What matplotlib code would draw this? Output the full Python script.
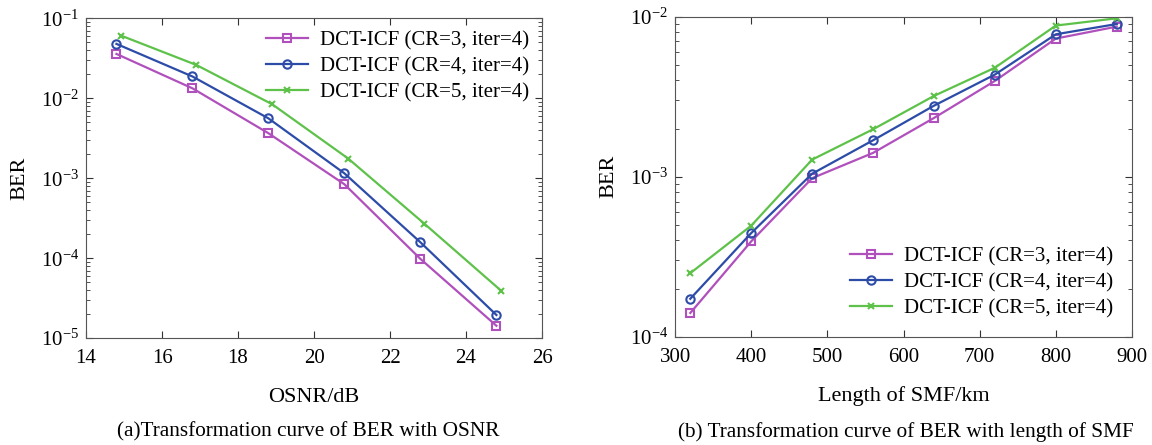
import numpy as np
import matplotlib
matplotlib.use("Agg")
import matplotlib.pyplot as plt
from matplotlib.ticker import LogLocator, NullFormatter

plt.rcParams['font.family'] = ['Liberation Serif', 'DejaVu Serif']
plt.rcParams['mathtext.fontset'] = 'stix'

# (a) BER vs OSNR
osnr_34 = [14.8, 16.8, 18.8, 20.8, 22.8, 24.8]
osnr_5 = [14.92, 16.9, 18.9, 20.9, 22.9, 24.93]
ber_a_cr3 = [3.58e-2, 1.33e-2, 3.65e-3, 8.4e-4, 9.8e-5, 1.43e-5]
ber_a_cr4 = [4.78e-2, 1.87e-2, 5.6e-3, 1.15e-3, 1.58e-4, 1.95e-5]
ber_a_cr5 = [6.07e-2, 2.61e-2, 8.4e-3, 1.76e-3, 2.71e-4, 3.9e-5]

# (b) BER vs length of SMF
smf_len = [320, 400, 480, 560, 640, 720, 800, 880]
ber_b_cr3 = [1.41e-4, 3.95e-4, 9.8e-4, 1.41e-3, 2.33e-3, 3.97e-3, 7.3e-3, 8.67e-3]
ber_b_cr4 = [1.73e-4, 4.45e-4, 1.045e-3, 1.69e-3, 2.78e-3, 4.35e-3, 7.76e-3, 9.0e-3]
ber_b_cr5 = [2.5e-4, 4.95e-4, 1.28e-3, 1.98e-3, 3.2e-3, 4.8e-3, 8.8e-3, 9.77e-3]

labels = ['DCT-ICF (CR=3, iter=4)', 'DCT-ICF (CR=4, iter=4)', 'DCT-ICF (CR=5, iter=4)']
colors = ['#b050bc', '#2c4ca8', '#5ec24a']
markers = ['s', 'o', 'x']

fig = plt.figure(figsize=(11.52, 4.45), dpi=100, facecolor='white')
ax1 = fig.add_axes([0.0747, 0.240, 0.3958, 0.719])
ax2 = fig.add_axes([0.586, 0.243, 0.3966, 0.7195])


def style(ax):
    ax.set_yscale('log')
    ax.tick_params(which='both', direction='in', top=True, right=True,
                   labelsize=15, colors='#333333', labelcolor='black')
    ax.tick_params(which='major', length=5, width=0.8)
    ax.tick_params(which='minor', length=3, width=0.6)
    ax.tick_params(axis='x', pad=8)
    ax.tick_params(axis='y', pad=5)
    ax.yaxis.set_major_locator(LogLocator(base=10))
    ax.yaxis.set_minor_locator(LogLocator(base=10, subs=np.arange(2, 10)))
    ax.yaxis.set_minor_formatter(NullFormatter())
    for s in ax.spines.values():
        s.set_color('#555555')
        s.set_linewidth(0.8)
    ax.set_ylabel('BER', fontsize=16, labelpad=8)


for y, c, m, lab in zip([ber_a_cr3, ber_a_cr4, ber_a_cr5], colors, markers, labels):
    xs = osnr_5 if m == 'x' else osnr_34
    ax1.plot(xs, y, color=c, marker=m, lw=1.6, ms=6 if m != 'x' else 5,
             mfc='none', mew=1.5, label=lab)
style(ax1)
ax1.set_xlim(14, 26)
ax1.set_ylim(1e-5, 1e-1)
ax1.set_xticks(np.arange(14, 27, 2))
ax1.set_xlabel('OSNR/dB', fontsize=16, labelpad=14)
ax1.legend(loc='upper right', frameon=False, fontsize=15, handlelength=2.0,
           borderaxespad=0.2, labelspacing=0.3, handletextpad=0.6)

for y, c, m, lab in zip([ber_b_cr3, ber_b_cr4, ber_b_cr5], colors, markers, labels):
    ax2.plot(smf_len, y, color=c, marker=m, lw=1.6, ms=6 if m != 'x' else 5,
             mfc='none', mew=1.5, label=lab)
style(ax2)
ax2.set_xlim(300, 900)
ax2.set_ylim(1e-4, 1e-2)
ax2.set_xticks(np.arange(300, 901, 100))
ax2.set_xlabel('Length of SMF/km', fontsize=16, labelpad=14)
ax2.legend(loc='lower right', frameon=False, fontsize=15, handlelength=2.0,
           borderaxespad=0.5, labelspacing=0.3, handletextpad=0.6)

fig.text(0.268, 1 - 432 / 445, '(a)Transformation curve of BER with OSNR',
         ha='center', va='center', fontsize=15.3)
fig.text(0.786, 1 - 432 / 445, '(b) Transformation curve of BER with length of SMF',
         ha='center', va='center', fontsize=15.3)

fig.savefig('out.png', dpi=100)
